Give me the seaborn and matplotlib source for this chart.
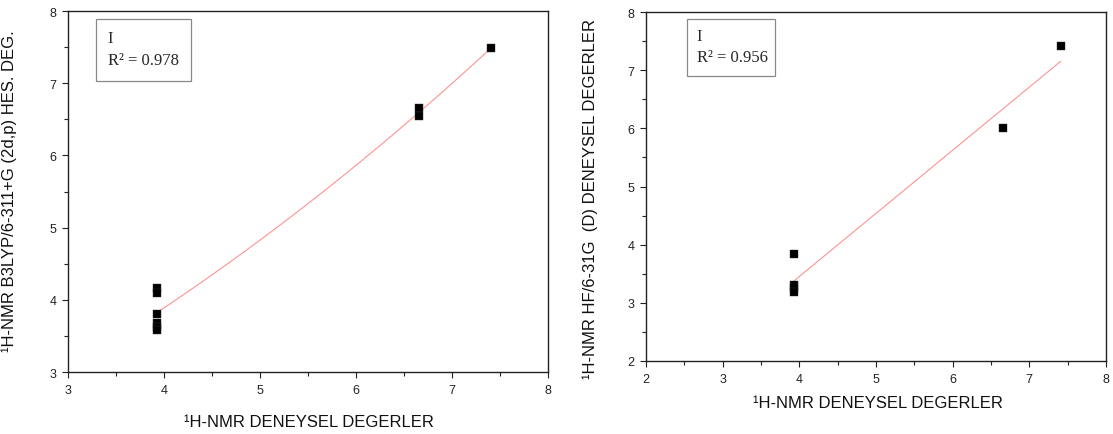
import numpy as np
import pandas as pd
import matplotlib
matplotlib.use("Agg")
import matplotlib.pyplot as plt
from matplotlib.patches import Rectangle
from matplotlib.ticker import MultipleLocator
import seaborn as sns

# Experimental vs. calculated 1H-NMR shifts (ppm)
exp_b3lyp = [3.93, 3.93, 3.93, 3.93, 3.93, 3.93, 6.66, 6.66, 7.41]
calc_b3lyp = [4.17, 4.10, 3.80, 3.68, 3.63, 3.58, 6.66, 6.54, 7.49]
r2_b3lyp = "0.978"

exp_hf = [3.93, 3.93, 3.93, 3.93, 6.66, 7.41]
calc_hf = [3.84, 3.31, 3.25, 3.18, 6.00, 7.42]
r2_hf = "0.956"

xlabel = "¹H-NMR DENEYSEL DEGERLER"
ylabel_b3lyp = "¹H-NMR B3LYP/6-311+G (2d,p) HES. DEG."
ylabel_hf = "¹H-NMR HF/6-31G  (D) DENEYSEL DEGERLER"

df_b3lyp = pd.DataFrame({"exp": exp_b3lyp, "calc": calc_b3lyp})
df_hf = pd.DataFrame({"exp": exp_hf, "calc": calc_hf})

sns.set_theme(style="ticks")
plt.rcParams["font.family"] = ["Liberation Sans", "DejaVu Sans"]

W, H = 1113, 435
fig = plt.figure(figsize=(W / 100, H / 100), dpi=100)
fig.patch.set_facecolor("white")


def px_axes(x0, x1, y0, y1):
    return fig.add_axes([x0 / W, 1 - y1 / H, (x1 - x0) / W, (y1 - y0) / H])


ax1 = px_axes(68, 548, 12, 373)
ax2 = px_axes(646, 1106, 13, 362)

line_col = "#ff8c8c"

sns.regplot(data=df_b3lyp, x="exp", y="calc", order=2, ci=None, scatter=False,
            ax=ax1, line_kws=dict(color=line_col, lw=0.75))
sns.scatterplot(data=df_b3lyp, x="exp", y="calc", marker="s", s=26,
                color="black", edgecolor="#333333", linewidth=0.3, ax=ax1, zorder=3)

sns.regplot(data=df_hf, x="exp", y="calc", ci=None, scatter=False,
            ax=ax2, line_kws=dict(color=line_col, lw=0.75))
sns.scatterplot(data=df_hf, x="exp", y="calc", marker="s", s=26,
                color="black", edgecolor="#333333", linewidth=0.3, ax=ax2, zorder=3)

ax1.set_xlim(3, 8)
ax1.set_ylim(3, 8)
ax2.set_xlim(2, 8)
ax2.set_ylim(2, 8)

for ax in (ax1, ax2):
    ax.set_facecolor("white")
    for sp in ax.spines.values():
        sp.set_visible(True)
        sp.set_color("#222222")
        sp.set_linewidth(1.0)
    ax.xaxis.set_major_locator(MultipleLocator(1))
    ax.xaxis.set_minor_locator(MultipleLocator(0.5))
    ax.yaxis.set_major_locator(MultipleLocator(1))
    ax.yaxis.set_minor_locator(MultipleLocator(0.5))
    ax.tick_params(which="major", direction="out", length=4.5, width=0.8,
                   color="#222222", labelsize=9, labelcolor="#222222", pad=4)
    ax.tick_params(which="minor", direction="out", length=3, width=0.8,
                   color="#222222")
    ax.tick_params(top=False, right=False, which="both")
    ax.grid(False)

ax1.set_xlabel(xlabel, fontsize=12, color="#111111")
ax1.set_ylabel(ylabel_b3lyp, fontsize=12, color="#111111")
ax1.xaxis.set_label_coords(0.502, -0.115)
ax1.yaxis.set_label_coords(-0.106, 0.505)

ax2.set_xlabel(xlabel, fontsize=12, color="#111111")
ax2.set_ylabel(ylabel_hf, fontsize=12, color="#111111")
ax2.xaxis.set_label_coords(0.504, -0.098)
ax2.yaxis.set_label_coords(-0.104, 0.466)


def stat_box(ax, x0, x1, y0, y1, tx, r2):
    ax.add_patch(Rectangle((x0, y0), x1 - x0, y1 - y0, transform=ax.transAxes,
                           facecolor="white", edgecolor="#888888", lw=0.9,
                           zorder=4))
    ax.text(tx, y1 - (y1 - y0) * 0.30, "I", transform=ax.transAxes,
            family=["Liberation Serif", "DejaVu Serif"], fontsize=12,
            va="center", ha="left", zorder=5)
    ax.text(tx, y1 - (y1 - y0) * 0.66, "R² = " + r2, transform=ax.transAxes,
            family=["Liberation Serif", "DejaVu Serif"], fontsize=12,
            va="center", ha="left", zorder=5)


stat_box(ax1, 0.058, 0.256, 0.806, 0.978, 0.083, r2_b3lyp)
stat_box(ax2, 0.089, 0.280, 0.816, 0.980, 0.110, r2_hf)

fig.savefig("out.png", dpi=100, facecolor="white")
